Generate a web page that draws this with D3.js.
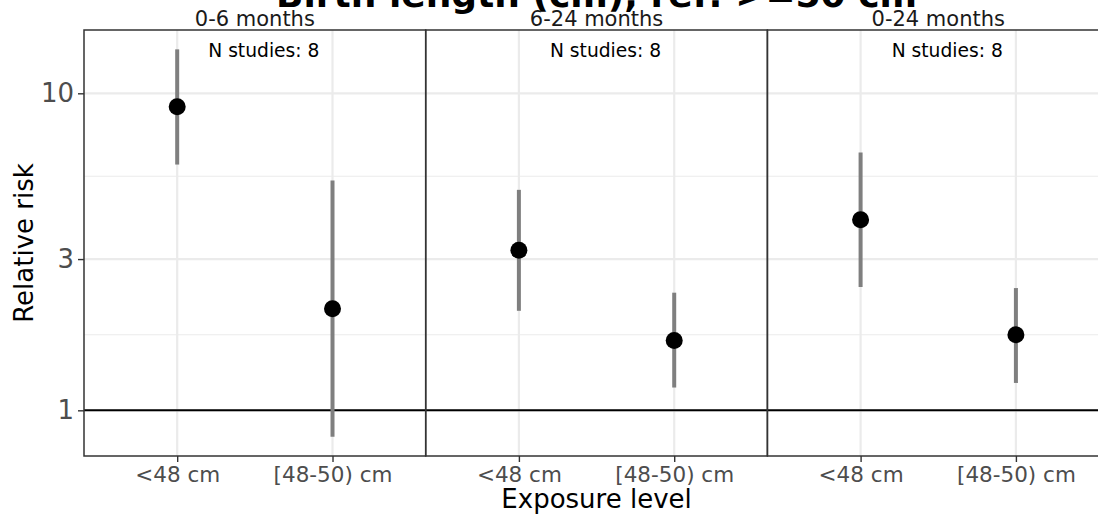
<!DOCTYPE html>
<html>
<head>
<meta charset="utf-8">
<script src="https://cdn.jsdelivr.net/npm/d3@7"></script>
<style>
  html, body { margin: 0; padding: 0; background: #ffffff; }
  svg { display: block; font-family: "DejaVu Sans", sans-serif; }
</style>
</head>
<body>
<svg id="chart" width="1098" height="517"></svg>
<script>
// ---- data ----
const titleText = "Birth length (cm), ref: >=50 cm";
const panels = ["0-6 months", "6-24 months", "0-24 months"];
const exposures = ["<48 cm", "[48-50) cm"];
const nStudies = [8, 8, 8];
// relative risk estimates per panel, per exposure level
const rrEstimate = [[9.07, 2.09], [3.20, 1.66], [3.99, 1.73]];
const rrLower    = [[5.96, 0.826], [2.06, 1.18], [2.45, 1.22]];
const rrUpper    = [[13.76, 5.31], [4.96, 2.35], [6.50, 2.43]];
const yTicks = [1, 3, 10];
const yTickLabels = ["1", "3", "10"];
const yMinor = [1.732, 5.477];
const xTitle = "Exposure level";
const yTitle = "Relative risk";

// ---- layout ----
const svg = d3.select("#chart");
const plotLeft = 84, plotTop = 30, plotBottom = 456;
const panelW = 341.7;

const xPanel = d3.scaleBand().domain(panels)
  .range([plotLeft, plotLeft + panelW * panels.length]).padding(0);
const xInner = d3.scalePoint().domain(exposures).range([0, xPanel.bandwidth()]).padding(0.6);

const allLo = d3.min(rrLower.flat()), allHi = d3.max(rrUpper.flat());
const lLo = Math.log10(allLo), lHi = Math.log10(allHi), ex = (lHi - lLo) * 0.05;
const y = d3.scaleLog().domain([Math.pow(10, lLo - ex), Math.pow(10, lHi + ex)])
  .range([plotBottom, plotTop]);

const rows = [];
panels.forEach((p, i) => exposures.forEach((e, j) => rows.push({
  panel: p, exposure: e, est: rrEstimate[i][j], lo: rrLower[i][j], hi: rrUpper[i][j]
})));

// ---- panels ----
panels.forEach((p, i) => {
  const x0 = xPanel(p);
  const g = svg.append("g").attr("transform", `translate(${x0},0)`);
  const w = xPanel.bandwidth();
  g.selectAll(".minor").data(yMinor).enter().append("line")
    .attr("x1", 0).attr("x2", w).attr("y1", d => y(d)).attr("y2", d => y(d))
    .attr("stroke", "#ebebeb").attr("stroke-width", 1.1);
  g.selectAll(".major").data(yTicks).enter().append("line")
    .attr("x1", 0).attr("x2", w).attr("y1", d => y(d)).attr("y2", d => y(d))
    .attr("stroke", "#ebebeb").attr("stroke-width", 2.2);
  g.selectAll(".vmajor").data(exposures).enter().append("line")
    .attr("x1", d => xInner(d)).attr("x2", d => xInner(d))
    .attr("y1", plotTop).attr("y2", plotBottom)
    .attr("stroke", "#ebebeb").attr("stroke-width", 2.2);
});

// reference line at 1
svg.append("line")
  .attr("x1", plotLeft).attr("x2", plotLeft + panelW * panels.length)
  .attr("y1", y(1)).attr("y2", y(1))
  .attr("stroke", "#000").attr("stroke-width", 2);

// error bars and points
const px = d => xPanel(d.panel) + xInner(d.exposure);
svg.selectAll(".ci").data(rows).enter().append("line")
  .attr("x1", px).attr("x2", px)
  .attr("y1", d => y(d.lo)).attr("y2", d => y(d.hi))
  .attr("stroke", "#7f7f7f").attr("stroke-width", 4);
svg.selectAll(".pt").data(rows).enter().append("circle")
  .attr("cx", px).attr("cy", d => y(d.est)).attr("r", 8.5)
  .attr("fill", "#000");

// panel borders, strip labels, n studies, x axes
panels.forEach((p, i) => {
  const x0 = xPanel(p);
  const w = xPanel.bandwidth();
  svg.append("rect").attr("x", x0).attr("y", plotTop).attr("width", w)
    .attr("height", plotBottom - plotTop)
    .attr("fill", "none").attr("stroke", "#333333").attr("stroke-width", 1.5);
  svg.append("text").attr("x", x0 + w / 2).attr("y", 26)
    .attr("text-anchor", "middle").attr("font-size", 21).attr("fill", "#1a1a1a")
    .text(p);
  svg.append("text").attr("x", x0 + w / 2 + 9).attr("y", 57)
    .attr("text-anchor", "middle").attr("font-size", 18.7).attr("fill", "#000")
    .text("N studies: " + nStudies[i]);
  const ax = svg.append("g").attr("transform", `translate(${x0},${plotBottom})`)
    .call(d3.axisBottom(xInner).tickSize(6).tickPadding(5));
  ax.select(".domain").remove();
  ax.selectAll(".tick line").attr("stroke", "#333333").attr("stroke-width", 1.4);
  ax.selectAll(".tick text").attr("font-size", 21.5).attr("fill", "#4d4d4d")
    .attr("font-family", "DejaVu Sans");
});

// y axis
const ay = svg.append("g").attr("transform", `translate(${plotLeft},0)`)
  .call(d3.axisLeft(y).tickValues(yTicks).tickFormat((d, i) => yTickLabels[i])
    .tickSize(6).tickPadding(4));
ay.select(".domain").remove();
ay.selectAll(".tick line").attr("stroke", "#333333").attr("stroke-width", 1.4);
ay.selectAll(".tick text").attr("font-size", 26).attr("fill", "#4d4d4d")
  .attr("font-family", "DejaVu Sans");

// titles
const cx = plotLeft + panelW * panels.length / 2;
svg.append("text").attr("x", cx).attr("y", 508).attr("text-anchor", "middle")
  .attr("font-size", 26).attr("fill", "#000").text(xTitle);
svg.append("text").attr("transform", `translate(33,${(plotTop + plotBottom) / 2}) rotate(-90)`)
  .attr("text-anchor", "middle").attr("font-size", 26).attr("fill", "#000").text(yTitle);
svg.append("text").attr("x", cx).attr("y", 7).attr("text-anchor", "middle")
  .attr("font-size", 36).attr("font-weight", "bold").attr("fill", "#000").text(titleText);
</script>
</body>
</html>
